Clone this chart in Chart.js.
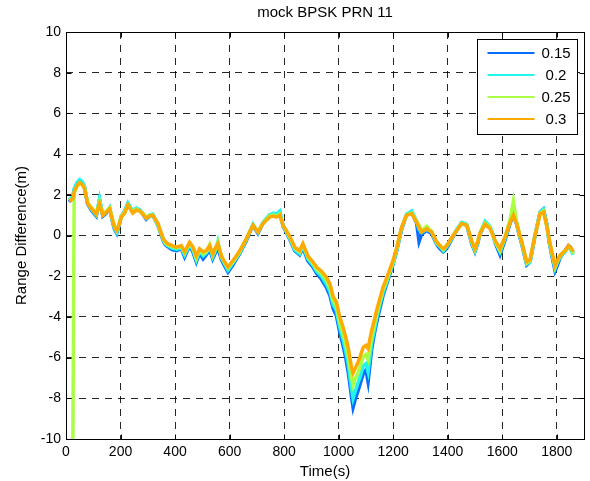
<!DOCTYPE html>
<html>
<head>
<meta charset="utf-8">
<script src="https://cdn.jsdelivr.net/npm/chart.js@4.4.0/dist/chart.umd.min.js"></script>
<style>
  body { margin: 0; background: #fff; }
  #wrap { width: 590px; height: 481px; }
</style>
</head>
<body>
<div id="wrap"><canvas id="rangechart" width="590" height="481"></canvas></div>
<script>
// time axis (s), shared by all four curves
const times = [12, 25, 30, 40, 50, 60, 68, 79, 95, 111,
  123, 135, 148, 160, 170, 178, 186, 195, 203, 215,
  227, 245, 258, 270, 282, 294, 306, 318, 337, 346,
  355, 364, 373, 389, 405, 423, 435, 453, 465, 478,
  490, 503, 515, 527, 538, 548, 557, 570, 582, 594,
  612, 625, 637, 650, 662, 674, 686, 704, 723, 735,
  747, 760, 772, 784, 796, 808, 821, 839, 857, 869,
  887, 906, 919, 937, 955, 968, 980, 992, 1004, 1016,
  1026, 1035, 1047, 1053, 1062, 1072, 1080, 1090, 1100, 1108,
  1121, 1130, 1139, 1151, 1163, 1176, 1188, 1200, 1213, 1231,
  1249, 1268, 1286, 1295, 1304, 1323, 1341, 1360, 1372, 1384,
  1396, 1408, 1420, 1433, 1451, 1470, 1480, 1488, 1500, 1510,
  1518, 1537, 1555, 1565, 1574, 1592, 1610, 1629, 1641, 1653,
  1663, 1672, 1690, 1702, 1711, 1720, 1730, 1739, 1751, 1763,
  1772, 1782, 1794, 1803, 1812, 1822, 1831, 1843, 1849, 1855,
  1860];

// range difference (m) for each setting
const range015 = [1.65, 1.9, 2.25, 2.55, 2.7, 2.6, 2.35, 1.55, 1.2, 0.95,
  1.75, 0.95, 1.1, 1.35, 0.7, 0.3, 0.1, 0.5, 0.95, 1.2,
  1.55, 1.15, 1.3, 1.25, 1.05, 0.8, 0.95, 1.0, 0.5, 0.15,
  -0.2, -0.45, -0.55, -0.7, -0.75, -0.65, -1.05, -0.5, -0.8, -1.3,
  -0.85, -1.15, -0.95, -0.7, -1.15, -0.85, -0.6, -1.2, -1.5, -1.8,
  -1.45, -1.15, -0.9, -0.55, -0.25, 0.15, 0.5, 0.1, 0.6, 0.8,
  1.0, 1.05, 1.05, 1.15, 0.45, 0.15, -0.2, -0.75, -0.95, -0.6,
  -1.25, -1.55, -1.85, -2.15, -2.55, -2.95, -3.6, -3.95, -4.75, -5.4,
  -6.0, -6.7, -7.9, -8.45, -8.0, -7.6, -7.25, -6.8, -6.6, -7.2,
  -5.6, -4.9, -4.3, -3.6, -2.95, -2.4, -1.9, -1.4, -0.75, 0.3,
  1.0, 1.15, 0.6, -0.3, 0.05, 0.25, 0.1, -0.45, -0.65, -0.8,
  -0.65, -0.35, -0.05, 0.25, 0.6, 0.5, 0.0, -0.4, -0.8, -0.4,
  0.05, 0.6, 0.4, 0.1, -0.35, -0.95, -0.25, 0.6, 1.0, 0.55,
  0.0, -0.45, -1.45, -1.3, -0.7, -0.05, 0.6, 1.15, 1.3, 0.6,
  -0.3, -1.0, -1.75, -1.45, -1.1, -0.9, -0.75, -0.5, -0.55, -0.7,
  -0.85];

const range02 = [1.75, 1.95, 2.3, 2.6, 2.75, 2.65, 2.4, 1.6, 1.25, 1.0,
  1.8, 1.0, 1.15, 1.35, 0.75, 0.35, 0.15, 0.55, 0.95, 1.2,
  1.6, 1.2, 1.35, 1.25, 1.1, 0.85, 1.0, 1.05, 0.55, 0.2,
  -0.15, -0.4, -0.5, -0.62, -0.68, -0.6, -0.95, -0.45, -0.7, -1.2,
  -0.75, -1.0, -0.85, -0.55, -1.05, -0.75, -0.3, -1.1, -1.4, -1.7,
  -1.35, -1.1, -0.85, -0.5, -0.2, 0.2, 0.55, 0.15, 0.65, 0.85,
  1.0, 1.1, 1.05, 1.2, 0.5, 0.2, -0.15, -0.7, -0.9, -0.5,
  -1.15, -1.45, -1.75, -2.0, -2.4, -2.75, -3.4, -3.7, -4.5, -5.1,
  -5.7, -6.3, -7.5, -8.0, -7.6, -7.2, -6.9, -6.4, -6.3, -6.7,
  -5.3, -4.7, -4.1, -3.4, -2.8, -2.3, -1.8, -1.35, -0.7, 0.35,
  1.05, 1.2, 0.7, 0.3, 0.15, 0.3, 0.2, -0.4, -0.55, -0.75,
  -0.55, -0.3, 0.0, 0.3, 0.65, 0.55, 0.05, -0.35, -0.75, -0.35,
  0.1, 0.7, 0.45, 0.1, -0.3, -0.8, -0.15, 0.65, 1.1, 0.6,
  0.05, -0.4, -1.4, -1.3, -0.65, 0.0, 0.6, 1.15, 1.3, 0.55,
  -0.25, -0.9, -1.6, -1.3, -1.05, -0.9, -0.8, -0.55, -0.65, -0.8,
  -0.95];

const range025 = [null, -10.5, 2.1, 2.4, 2.55, 2.5, 2.3, 1.6, 1.35, 1.1,
  1.65, 1.05, 1.2, 1.35, 0.85, 0.45, 0.25, 0.6, 0.95, 1.15,
  1.5, 1.15, 1.3, 1.2, 1.1, 0.9, 1.0, 1.0, 0.55, 0.2,
  -0.1, -0.35, -0.45, -0.55, -0.6, -0.55, -0.85, -0.4, -0.6, -1.1,
  -0.7, -0.9, -0.8, -0.45, -0.95, -0.65, -0.35, -1.05, -1.35, -1.6,
  -1.3, -1.05, -0.8, -0.45, -0.15, 0.2, 0.5, 0.2, 0.6, 0.8,
  0.95, 1.0, 0.95, 1.05, 0.5, 0.2, -0.1, -0.62, -0.8, -0.45,
  -1.05, -1.38, -1.65, -1.85, -2.2, -2.55, -3.2, -3.5, -4.25, -4.8,
  -5.35, -5.9, -6.95, -7.35, -7.0, -6.7, -6.4, -5.95, -5.85, -6.1,
  -5.0, -4.45, -3.9, -3.25, -2.65, -2.2, -1.75, -1.3, -0.65, 0.4,
  1.0, 1.1, 0.7, 0.5, 0.25, 0.45, 0.2, -0.35, -0.5, -0.7,
  -0.5, -0.25, 0.0, 0.25, 0.6, 0.5, 0.1, -0.3, -0.7, -0.3,
  0.1, 0.6, 0.4, 0.05, -0.3, -0.75, -0.1, 0.8, 1.7, 0.65,
  0.1, -0.35, -1.35, -1.25, -0.6, 0.0, 0.55, 1.1, 1.2, 0.5,
  -0.2, -0.85, -1.55, -1.25, -1.0, -0.85, -0.75, -0.55, -0.6, -0.7,
  -0.9];

const range03 = [1.7, 1.8, 2.15, 2.45, 2.6, 2.5, 2.3, 1.6, 1.3, 1.05,
  1.55, 1.0, 1.15, 1.3, 0.8, 0.4, 0.25, 0.55, 0.9, 1.1,
  1.5, 1.1, 1.25, 1.2, 1.05, 0.85, 0.95, 1.0, 0.6, 0.25,
  -0.1, -0.3, -0.4, -0.5, -0.57, -0.5, -0.8, -0.33, -0.55, -1.0,
  -0.65, -0.8, -0.74, -0.5, -0.9, -0.6, -0.4, -1.0, -1.3, -1.55,
  -1.23, -1.0, -0.74, -0.45, -0.15, 0.2, 0.5, 0.17, 0.6, 0.75,
  0.9, 0.95, 0.9, 1.0, 0.5, 0.25, -0.05, -0.57, -0.75, -0.4,
  -1.0, -1.3, -1.55, -1.75, -2.05, -2.37, -3.0, -3.27, -4.0, -4.5,
  -5.0, -5.5, -6.47, -6.75, -6.5, -6.2, -5.9, -5.5, -5.4, -5.55,
  -4.67, -4.2, -3.7, -3.1, -2.54, -2.1, -1.65, -1.2, -0.6, 0.4,
  1.0, 1.07, 0.65, 0.4, 0.17, 0.33, 0.17, -0.32, -0.5, -0.65,
  -0.5, -0.25, 0.0, 0.25, 0.58, 0.5, 0.1, -0.25, -0.65, -0.3,
  0.1, 0.55, 0.35, 0.05, -0.25, -0.65, -0.08, 0.65, 1.0, 0.58,
  0.1, -0.32, -1.3, -1.2, -0.6, 0.0, 0.55, 1.07, 1.15, 0.5,
  -0.15, -0.8, -1.47, -1.2, -0.98, -0.85, -0.74, -0.5, -0.6, -0.65,
  -0.8];

const labels = ['0.15', '0.2', '0.25', '0.3'];
const xTickValues = [0, 200, 400, 600, 800, 1000, 1200, 1400, 1600, 1800];
const yTickValues = [-10, -8, -6, -4, -2, 0, 2, 4, 6, 8, 10];

const FONT = "'Liberation Sans', Arial, Helvetica, sans-serif";
Chart.defaults.font.family = FONT;
Chart.defaults.color = '#000';

const toPoints = vals => times.map((t, i) => ({x: t, y: vals[i]}));

function line(label, vals, color) {
  return {
    label: label,
    data: toPoints(vals),
    borderColor: color,
    backgroundColor: color,
    borderWidth: 3.5,
    pointRadius: 0,
    tension: 0,
    clip: 0
  };
}

// first dataset is painted last, so orange sits on top as in the original
const datasets = [
  line(labels[3], range03, '#ffaa00'),
  line(labels[2], range025, '#aaff44'),
  line(labels[1], range02, '#22f5ee'),
  line(labels[0], range015, '#0a6cff')
];

// axes box, inward tick marks and the boxed legend
const matlabFrame = {
  id: 'matlabFrame',
  afterDraw(chart) {
    const {ctx, chartArea: a, scales: {x, y}} = chart;
    const L = Math.round(a.left) + 0.5, R = Math.round(a.right) + 0.5;
    const T = Math.round(a.top) + 0.5, B = Math.round(a.bottom) + 0.5;
    ctx.save();
    ctx.setLineDash([]);
    ctx.strokeStyle = '#000';
    ctx.lineWidth = 1;
    ctx.beginPath();
    xTickValues.forEach(v => {
      const px = Math.round(x.getPixelForValue(v)) + 0.5;
      ctx.moveTo(px, B); ctx.lineTo(px, B - 5);
      ctx.moveTo(px, T); ctx.lineTo(px, T + 5);
    });
    yTickValues.forEach(v => {
      const py = Math.round(y.getPixelForValue(v)) + 0.5;
      ctx.moveTo(L, py); ctx.lineTo(L + 5, py);
      ctx.moveTo(R, py); ctx.lineTo(R - 5, py);
    });
    ctx.stroke();
    ctx.strokeRect(L, T, R - L, B - T);

    // legend
    const w = 100, h = 95;
    const bx = R - 7 - w, by = T + 7;
    ctx.fillStyle = '#fff';
    ctx.fillRect(bx, by, w, h);
    ctx.strokeRect(bx, by, w, h);
    ctx.font = '15px ' + FONT;
    ctx.textAlign = 'center';
    ctx.textBaseline = 'middle';
    const rows = chart.data.datasets.slice().reverse();
    rows.forEach((ds, i) => {
      const ry = by + 13.5 + i * 22;
      ctx.strokeStyle = ds.borderColor;
      ctx.lineWidth = 2;
      ctx.beginPath();
      ctx.moveTo(bx + 10, ry);
      ctx.lineTo(bx + 57, ry);
      ctx.stroke();
      ctx.fillStyle = '#000';
      ctx.fillText(ds.label, bx + 78.5, ry + 1);
    });
    ctx.restore();
  }
};

const gridStyle = {
  color: 'rgba(0,0,0,0.85)',
  lineWidth: 1,
  drawTicks: false
};

new Chart(document.getElementById('rangechart').getContext('2d'), {
  type: 'line',
  data: { datasets: datasets },
  plugins: [matlabFrame],
  options: {
    responsive: false,
    animation: false,
    layout: { padding: { left: 0, right: 6, top: 0, bottom: 0 } },
    plugins: {
      legend: { display: false },
      tooltip: { enabled: false },
      title: {
        display: true,
        text: 'mock BPSK PRN 11',
        fullSize: false,
        font: { size: 15, weight: 'normal' },
        color: '#000',
        padding: { top: 4, bottom: 10 }
      }
    },
    scales: {
      x: {
        type: 'linear',
        min: 0,
        max: 1900,
        afterBuildTicks: s => { s.ticks = xTickValues.map(v => ({value: v})); },
        afterFit: s => { s.height = 42; },
        grid: gridStyle,
        border: { display: false, dash: [7, 6] },
        ticks: { font: { size: 14 }, color: '#000', padding: 5, maxRotation: 0, callback: v => String(v) },
        title: { display: true, text: 'Time(s)', font: { size: 15 }, color: '#000', padding: { top: 0, bottom: 0 } }
      },
      y: {
        min: -10,
        max: 10,
        afterBuildTicks: s => { s.ticks = yTickValues.map(v => ({value: v})); },
        afterFit: s => { s.width = 66; },
        grid: gridStyle,
        border: { display: false, dash: [7, 6] },
        ticks: { font: { size: 14 }, color: '#000', padding: 5, callback: v => String(v) },
        title: { display: true, text: 'Range Difference(m)', font: { size: 15 }, color: '#000', padding: { top: 13, bottom: 0 } }
      }
    }
  }
});
</script>
</body>
</html>
